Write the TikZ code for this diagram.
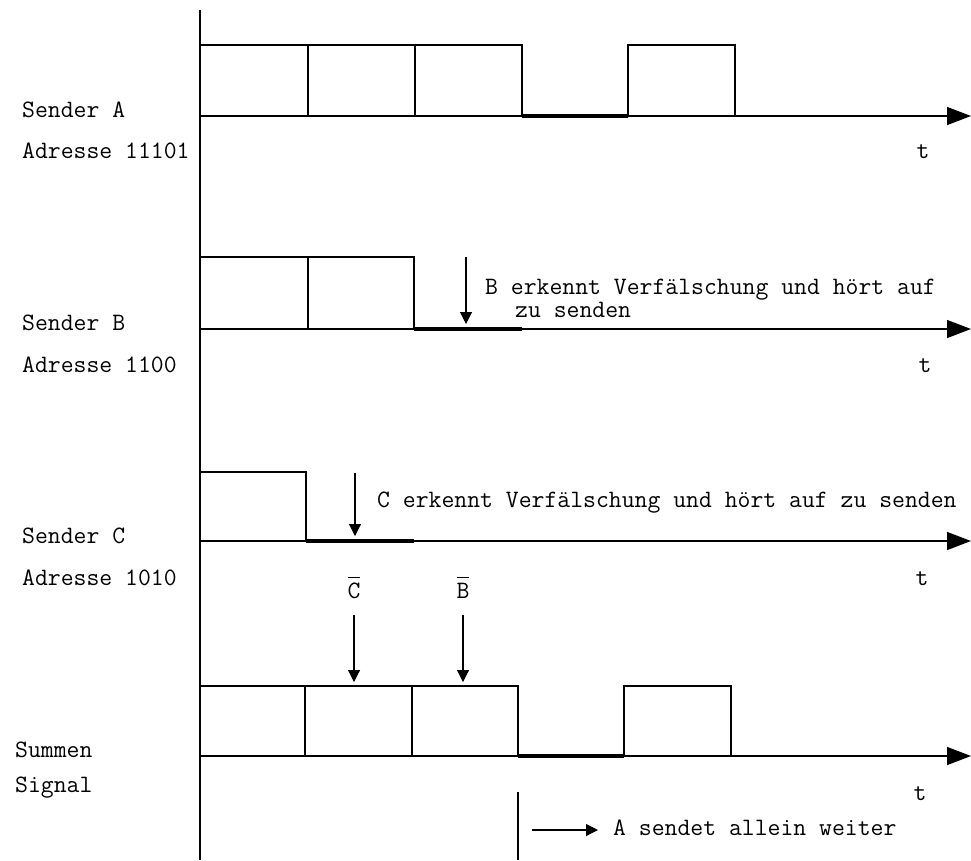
\documentclass[tikz,border=0pt]{standalone}
\usetikzlibrary{arrows.meta}

\begin{document}
\begin{tikzpicture}[
  x=1pt,y=-1pt,
  every node/.style={inner sep=0pt,anchor=base west,font=\fontsize{25}{24}\selectfont\ttfamily},
  sig/.style={line width=1.3pt},
  low/.style={line width=3.5pt},
  taxis/.style={line width=1.4pt,-{Triangle[length=24pt,width=18pt]}},
  hint/.style={line width=1.1pt,-{Triangle[length=12pt,width=12pt]}},
  tlab/.style={anchor=base},
]
\useasboundingbox (0,0) rectangle (971,860);

% gemeinsame Achse
\draw[sig] (200,10) -- (200,860);

% Sender A
\node (sA) at (22,117) {Sender A};
\node (adrA) at (22,158) {Adresse 11101};
\draw[taxis] (200,116) -- (971,116);
\draw[sig] (200,45) -| (522,116) (308,45) -- (308,116) (415,45) -- (415,116)
  (628,116) |- (735,45) -- (735,116);
\draw[low] (522,116) -- (628,116);
\node[tlab] (tA) at (923,158) {t};

% Sender B
\node (sB) at (22,330) {Sender B};
\node (adrB) at (22,372) {Adresse 1100};
\draw[taxis] (200,329) -- (971,329);
\draw[sig] (200,257) -| (414,329) (308,257) -- (308,329);
\draw[low] (414,329) -- (522,329);
\coordinate (bTop) at (466,257);
\coordinate (bHit) at (466,324);
\draw[hint] (bTop) -- (bHit);
\node (bTxt) at (485,294) {B erkennt Verfälschung und hört auf};
\node (bTxt2) at (515,317) {zu senden};
\node[tlab] (tB) at (925,372) {t};

% Sender C
\node (sC) at (22,543) {Sender C};
\node (adrC) at (22,585) {Adresse 1010};
\draw[taxis] (200,541) -- (971,541);
\draw[sig] (200,472) -| (306,541);
\draw[low] (306,541) -- (414,541);
\coordinate (cTop) at (355,473);
\coordinate (cHit) at (355,536);
\draw[hint] (cTop) -- (cHit);
\node (cTxt) at (377,507) {C erkennt Verfälschung und hört auf zu senden};
\node[tlab] (tC) at (922,585) {t};

% Summensignal
\node (sS) at (15,757) {Summen};
\node (sS2) at (15,792) {Signal};
\draw[taxis] (200,756) -- (971,756);
\draw[sig] (200,686) -| (518,756) (305,686) -- (305,756) (412,686) -- (412,756)
  (624,756) |- (731,686) -- (731,756);
\draw[low] (518,756) -- (624,756);
\node[tlab] (tS) at (920,800) {t};

% Verfaelschungen
\node[tlab] (cBar) at (354,598) {$\overline{\hbox{C}\rule{0pt}{19pt}}$};
\node[tlab] (bBar) at (463,598) {$\overline{\hbox{B}\rule{0pt}{19pt}}$};
\coordinate (cFrom) at (354,615);
\coordinate (cTo) at (354,682);
\coordinate (bFrom) at (463,615);
\coordinate (bTo) at (463,682);
\draw[hint] (cFrom) -- (cTo);
\draw[hint] (bFrom) -- (bTo);

% A allein
\draw[sig] (518,792) -- (518,860);
\coordinate (aArr) at (532,830);
\node (aTxt) at (613,835) {A sendet allein weiter};
\draw[hint,shorten >=15pt] (aArr) -- (aArr -| aTxt.west);
\end{tikzpicture}
\end{document}
